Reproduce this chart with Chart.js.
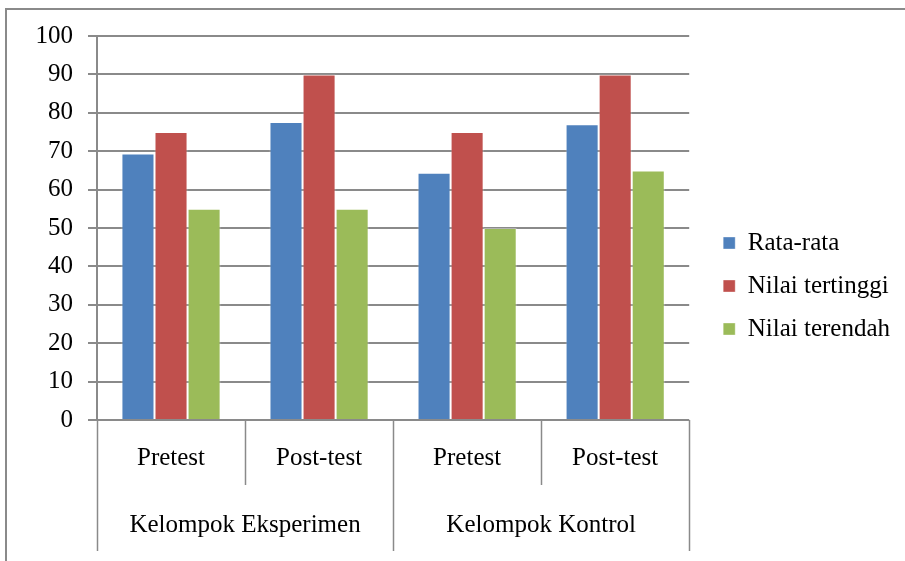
<!DOCTYPE html>
<html>
<head>
<meta charset="utf-8">
<script src="https://cdn.jsdelivr.net/npm/chart.js@4.4.1/dist/chart.umd.min.js"></script>
<style>
  html, body { margin: 0; padding: 0; background: #fff; overflow: hidden; }
  #wrap { position: absolute; left: 0; top: 0; width: 905px; height: 561px; }
  #frame { position: absolute; left: 5px; top: 8px; width: 910px; height: 570px;
           border-left: 2px solid #8a8a8a; border-top: 2px solid #8a8a8a; }
</style>
</head>
<body>
<div id="wrap">
  <div id="frame"></div>
  <canvas id="c" width="905" height="561"></canvas>
</div>
<script>
const subLabels = ['Pretest', 'Post-test', 'Pretest', 'Post-test'];
const groupLabels = ['Kelompok Eksperimen', 'Kelompok Kontrol'];
const seriesNames = ['Rata-rata', 'Nilai tertinggi', 'Nilai terendah'];
const rataRata = [69.4, 77.6, 64.4, 77.0];
const nilaiTertinggi = [75, 90, 75, 90];
const nilaiTerendah = [55, 55, 50, 65];
const colors = ['#4F81BD', '#C0504D', '#9BBB59'];

const FONT = 'Liberation Serif';
const FS = 25;

// category axis with two label rows (test / group), Excel style
const groupAxis = {
  id: 'groupAxis',
  afterDraw(chart){
    const { ctx, scales: { x }, chartArea } = chart;
    const n = subLabels.length;
    const step = (x.right - x.left) / n;
    const y0 = chartArea.bottom;
    ctx.save();
    ctx.strokeStyle = '#8a8a8a';
    ctx.lineWidth = 1.5;
    for (let i = 0; i <= n; i++) {
      const px = Math.round(x.left + i * step) + 0.5;
      const long = i % 2 === 0;
      ctx.beginPath();
      ctx.moveTo(px, y0);
      ctx.lineTo(px, y0 + (long ? 131 : 65));
      ctx.stroke();
    }
    ctx.fillStyle = '#000';
    ctx.font = FS + 'px "' + FONT + '"';
    ctx.textAlign = 'center';
    ctx.textBaseline = 'middle';
    groupLabels.forEach((g, i) => {
      const cx = x.left + (i * 2 + 1) * step;
      ctx.fillText(g, cx, y0 + 105);
    });
    ctx.restore();
  }
};

// leave a gap between plot and legend
const legendGap = {
  id: 'legendGap',
  afterLayout(chart){
    const lg = chart.legend;
    if (!lg) return;
    lg.left += 16;
    lg.right += 16;
  }
};

new Chart(document.getElementById('c'), {
  type: 'bar',
  data: {
    labels: subLabels,
    datasets: [
      { label: seriesNames[0], data: rataRata, backgroundColor: colors[0] },
      { label: seriesNames[1], data: nilaiTertinggi, backgroundColor: colors[1] },
      { label: seriesNames[2], data: nilaiTerendah, backgroundColor: colors[2] }
    ].map(d => Object.assign(d, { borderColor: 'rgba(255,255,255,0.35)', borderWidth: 1, categoryPercentage: 0.67, barPercentage: 1.0 }))
  },
  options: {
    responsive: false,
    animation: false,
    layout: { padding: { top: 36, left: 0, right: 21, bottom: 25 } },
    plugins: {
      tooltip: { enabled: false },
      legend: {
        position: 'right',
        labels: {
          font: { family: FONT, size: FS },
          color: '#000',
          boxWidth: 12,
          boxHeight: 12,
          padding: 18
        }
      }
    },
    scales: {
      x: {
        grid: { display: false },
        border: { display: false },
        ticks: { color: '#000', font: { family: FONT, size: FS }, padding: 15, maxRotation: 0 },
        afterFit(s){ s.height = 116; }
      },
      y: {
        min: 0, max: 100,
        ticks: { stepSize: 10, color: '#000', font: { family: FONT, size: FS }, padding: 15 },
        grid: { color: '#8a8a8a', lineWidth: 2, tickLength: 9 },
        border: { color: '#8a8a8a', width: 2 },
        afterFit(s){ s.width = 97; }
      }
    }
  },
  plugins: [groupAxis, legendGap]
});
</script>
</body>
</html>
